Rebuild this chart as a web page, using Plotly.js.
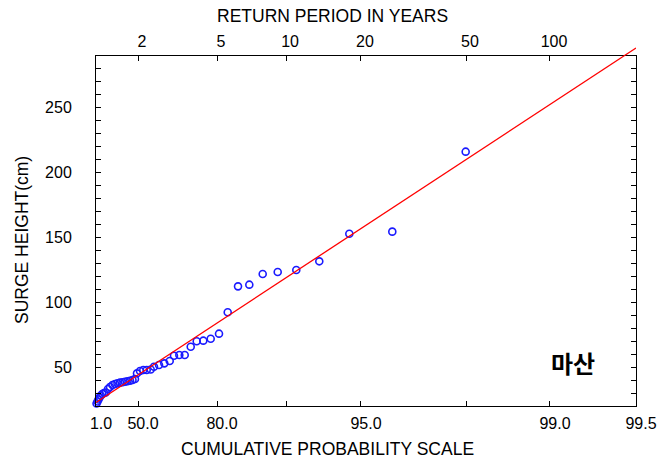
<!DOCTYPE html>
<html>
<head>
<meta charset="utf-8">
<script src="https://cdn.plot.ly/plotly-3.0.1.min.js"></script>
<style>html,body{margin:0;padding:0;background:#fff;}#chart{width:671px;height:459px;}</style>
</head>
<body>
<div id="chart"></div>
<script>
// Probability-paper position (0 = 1.0 %, 100 = 99.5 %) of each tick
const probTickPos   = [0, 7.78, 22.41, 35.19, 49.07, 68.52, 84.07, 100];
const probTickText  = ["1.0", "50.0", "80.0", "", "95.0", "", "99.0", "99.5"];
const returnTickPos = [7.78, 22.41, 35.19, 49.07, 68.52, 84.07];
const returnTickText = ["2", "5", "10", "20", "50", "100"];

// Observed surge heights (cm) and their plotting positions on the probability scale
const plotPos = [
  -0.1, 0.1, 0.28, 0.46, 0.65, 0.89, 1.17, 1.48, 1.8, 2.22, 2.59, 3.06, 3.52, 3.98,
  4.44, 4.91, 5.37, 5.83, 6.3, 6.76, 7.22, 7.59, 8.15, 8.76, 9.39, 10.13,
  10.74, 11.67, 12.65, 13.65, 14.44, 15.43, 16.43, 17.54, 18.65, 19.87, 21.24, 22.78,
  24.39, 26.30, 28.39, 30.87, 33.65, 37.09, 41.35, 46.91, 54.87, 68.46
];
const surgeHeight = [
  20.6, 21.9, 23.5, 25.0, 26.6, 28.1, 29.3, 30.0, 30.4, 33.1, 34.7, 36.2, 37.0, 37.5,
  38.0, 38.3, 38.7, 39.1, 39.5, 40.1, 40.8, 45.2, 47.0, 47.8, 47.8, 48.2,
  50.3, 51.6, 52.9, 54.7, 58.8, 59.3, 59.3, 65.7, 69.9, 70.4, 71.9, 75.8,
  92.3, 112.3, 113.6, 121.8, 123.4, 124.9, 131.6, 152.9, 154.5, 216.2
];

// Fitted Gumbel line: height = fitA + fitB * position
const fitA = 22.7;
const fitB = 2.735;
const fitX = [0, 100];
const fitY = fitX.map(v => fitA + fitB * v);

const yMin = 20, yMax = 290;
const mT = 40, mB = 53, H = 459;
const plotH = H - mT - mB;                 // px of the (extended) line subplot
const mainH = 350;                          // px of the framed plot
const mainTop = mainH / plotH;
const y2Max = yMin + (yMax - yMin) * plotH / mainH;

const font = "Liberation Sans, Arial, sans-serif";
const tickFont = {family: font, size: 16, color: "#000"};
const titleFont = {family: font, size: 17.5, color: "#000"};

const traces = [
  {
    x: fitX, y: fitY, xaxis: "x2", yaxis: "y2",
    mode: "lines", line: {color: "#ff0000", width: 1.3},
    hoverinfo: "skip", showlegend: false
  },
  {
    x: plotPos, y: surgeHeight, xaxis: "x", yaxis: "y",
    mode: "markers",
    marker: {symbol: "circle-open", size: 7, color: "#1a1aff", line: {width: 1.6, color: "#1a1aff"}},
    cliponaxis: false, showlegend: false
  },
  {
    // carrier for the return-period axis on top (draws nothing)
    x: returnTickPos, y: returnTickPos.map(() => null), xaxis: "x3", yaxis: "y",
    mode: "markers", marker: {opacity: 0}, hoverinfo: "skip", showlegend: false
  }
];

const layout = {
  width: 671, height: 459,
  margin: {l: 96, r: 35, t: mT, b: mB, pad: 0},
  paper_bgcolor: "#fff", plot_bgcolor: "rgba(0,0,0,0)",
  font: {family: font, size: 15, color: "#000"},
  showlegend: false,
  xaxis: {
    domain: [0, 1], range: [0, 100], anchor: "y",
    tickmode: "array", tickvals: probTickPos, ticktext: probTickText,
    ticks: "inside", ticklen: 5, tickwidth: 1, tickcolor: "#000",
    mirror: "ticks", showline: true, linecolor: "#000", linewidth: 1,
    showgrid: false, zeroline: false, ticklabelshift: 5, ticklabelstandoff: 3,
    tickfont: tickFont
  },
  xaxis3: {
    overlaying: "x", side: "top", anchor: "y", range: [0, 100], autorange: false,
    tickmode: "array", tickvals: returnTickPos, ticktext: returnTickText,
    ticks: "", showline: false, showgrid: false, zeroline: false,
    ticklabelshift: 4, ticklabelstandoff: 5,
    tickfont: tickFont
  },
  yaxis: {
    domain: [0, mainTop], range: [yMin, yMax], anchor: "x",
    tickmode: "linear", tick0: 0, dtick: 50,
    ticks: "inside", ticklen: 5, tickwidth: 1, tickcolor: "#000",
    minor: {dtick: 10, tick0: 0, ticks: "inside", ticklen: 5, tickwidth: 1, tickcolor: "#000", showgrid: false},
    mirror: "ticks", showline: true, linecolor: "#000", linewidth: 1,
    showgrid: false, zeroline: false, ticklabelstandoff: 20,
    tickfont: tickFont
  },
  xaxis2: {domain: [0, 1], range: [0, 100], anchor: "y2", visible: false, fixedrange: true},
  yaxis2: {domain: [0, 1], range: [yMin, y2Max], anchor: "x2", visible: false, fixedrange: true},
  annotations: [
    {text: "RETURN PERIOD IN YEARS", xref: "paper", yref: "paper",
     x: (332 - 96) / 540, y: (H - mB - 16) / plotH, xanchor: "center", yanchor: "middle",
     showarrow: false, font: titleFont},
    {text: "CUMULATIVE PROBABILITY SCALE", xref: "paper", yref: "paper",
     x: (327 - 96) / 540, y: (H - mB - 449) / plotH, xanchor: "center", yanchor: "middle",
     showarrow: false, font: titleFont},
    {text: "SURGE HEIGHT(cm)", xref: "paper", yref: "paper", textangle: -90,
     x: (22 - 96) / 540, y: (H - mB - 240) / plotH, xanchor: "center", yanchor: "middle",
     showarrow: false, font: titleFont},
    {text: "<b>마산</b>", xref: "paper", yref: "paper",
     x: (573 - 96) / 540, y: (H - mB - 362) / plotH, xanchor: "center", yanchor: "middle",
     showarrow: false, font: {family: "Noto Sans CJK KR, sans-serif", size: 24, color: "#000"}}
  ]
};

Plotly.newPlot("chart", traces, layout, {staticPlot: true, displayModeBar: false});
</script>
</body>
</html>
